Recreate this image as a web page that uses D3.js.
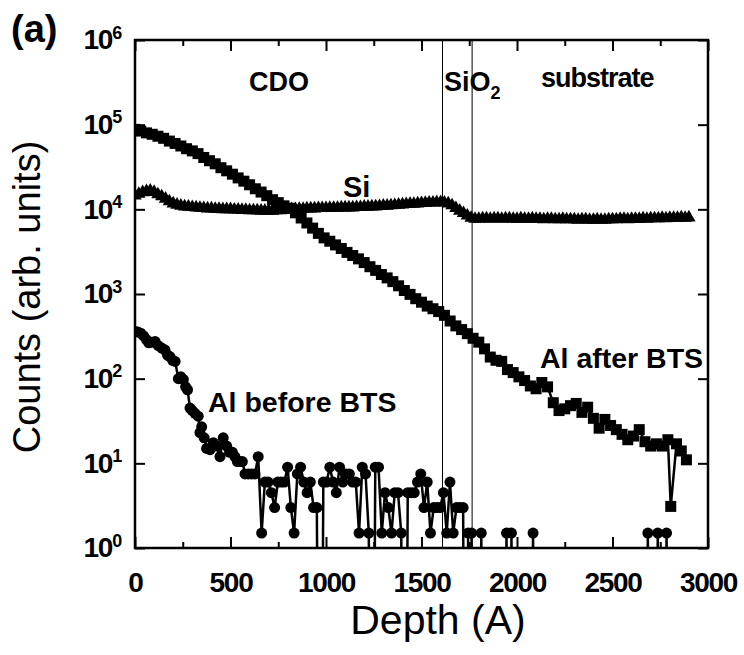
<!DOCTYPE html>
<html>
<head>
<meta charset="utf-8">
<script src="https://cdn.jsdelivr.net/npm/d3@7"></script>
<style>
  body { margin: 0; background: #fff; }
  svg { font-family: "Liberation Sans", Arial, sans-serif; }
  .axis path.domain { display: none; }
  .axis line { stroke: #000; stroke-width: 2; }
</style>
</head>
<body>
<div id="chart"></div>
<script>
// Axis ticks
var xMajor = [0, 500, 1000, 1500, 2000, 2500, 3000];
var xMinor = [250, 750, 1250, 1750, 2250, 2750];
var yMajor = [1, 10, 100, 1000, 10000, 100000, 1000000];

// Layer interfaces (depth, A)
var interfaces = [1610, 1765];

// Si signal (triangles)
var siDepth = [0,20,40,60,80,100,120,140,160,180,200,220,240,260,280,300,320,340,360,380,
  400,420,440,460,480,500,520,540,560,580,600,620,640,660,680,700,720,740,760,780,
  800,820,840,860,880,900,920,940,960,980,1000,1020,1040,1060,1080,1100,1120,1140,1160,1180,
  1200,1220,1240,1260,1280,1300,1320,1340,1360,1380,1400,1420,1440,1460,1480,1500,1520,1540,1560,1580,
  1600,1620,1640,1660,1680,1700,1720,1740,1760,1780,1800,1820,1840,1860,1880,1900,1920,1940,1960,1980,
  2000,2020,2040,2060,2080,2100,2120,2140,2160,2180,2200,2220,2240,2260,2280,2300,2320,2340,2360,2380,
  2400,2420,2440,2460,2480,2500,2520,2540,2560,2580,2600,2620,2640,2660,2680,2700,2720,2740,2760,2780,
  2800,2820,2840,2860,2880,2900];
var siCounts = [14500,15200,15900,16400,16600,16000,15000,14200,13300,12400,
  11700,11300,11000,10800,10700,10600,10500,10400,10300,10200,
  10200,10100,10100,10000,10000,10000,9900,9900,9800,9800,
  9700,9700,9700,9600,9600,9600,9600,9700,9700,9800,
  9900,10000,10000,10100,10100,10200,10200,10200,10300,10300,
  10300,10400,10400,10400,10500,10500,10500,10500,10600,10600,
  10700,10700,10800,10800,10900,11000,11000,11100,11200,11300,
  11400,11500,11600,11600,11700,11800,11900,12000,12000,12100,
  12100,12000,11700,11100,10300,9600,9000,8400,7900,7700,
  7700,7800,7800,7700,7800,7800,7700,7800,7800,7700,
  7700,7800,7700,7700,7800,7700,7700,7600,7700,7700,
  7600,7600,7700,7600,7600,7600,7500,7600,7600,7500,
  7500,7600,7500,7500,7600,7600,7600,7700,7700,7600,
  7700,7700,7700,7800,7700,7800,7800,7800,7900,7800,
  7900,7900,7900,8000,7900,8000];

// Al after BTS (squares)
var afterDepth = [0,30,60,90,120,150,180,210,240,270,300,330,360,390,420,450,480,510,540,570,
  600,630,660,690,720,750,780,810,840,870,900,930,960,990,1020,1050,1080,1110,1140,1170,
  1200,1230,1260,1290,1320,1350,1380,1410,1440,1470,1500,1530,1560,1590,1620,1650,1680,1710,1740,1770,
  1800,1830,1860,1890,1920,1950,1980,2010,2040,2070,2100,2130,2160,2190,2220,2250,2280,2310,2340,2370,
  2400,2430,2460,2490,2520,2550,2580,2610,2640,2670,2700,2730,2760,2790,2805,2835,2860,2887];
var afterCounts = [88000,84000,80000,77000,73000,69000,64000,60000,56000,52000,
  49000,45500,41000,37500,34500,31000,28500,26000,23500,21500,
  19500,17500,16000,14500,13000,12000,11000,10300,9100,7900,
  6900,6000,5200,4600,4200,3800,3450,3100,2850,2600,
  2350,2100,1900,1700,1550,1400,1250,1100,990,880,
  800,720,670,620,560,480,420,380,340,300,
  270,225,180,165,160,128,118,105,95,82,
  76,90,80,52,42,44,48,51,40,46,
  34,26,33,28,25,22,19,21,25,18,
  16,17,16,19,3.1,17,14,11];

// Al before BTS (circles), 0 = no counts
var beforeDepth = [0,15,30,45,60,72,88,105,122,140,157,170,183,197,210,227,240,253,265,275,
  288,300,314,331,340,349,362,375,393,410,427,445,462,480,495,510,523,536,549,562,
  576,593,611,628,645,663,680,697,714,731,748,765,782,799,816,833,850,867,884,901,
  918,935,952,969,986,1003,1020,1037,1054,1071,1088,1105,1122,1139,1156,1173,1190,1207,1224,1241,
  1258,1275,1292,1309,1326,1343,1360,1377,1394,1411,1428,1445,1462,1479,1496,1513,1530,1547,1564,1581,
  1598,1615,1632,1649,1666,1683,1700,1718,1731,1744,1762,1779,1796,1813,1830,1928,1945,1962,1971,1988,
  2067,2084,2101,2668,2685,2702,2720,2737,2754,2766,2783,2800];
var beforeCounts = [360,355,345,320,290,265,270,275,245,230,218,190,182,165,160,100,105,98,80,74,
  45,42,39,36,23,27,20,15,14.5,17.5,16,12,20,16,13.5,13.5,12,10.5,10.5,10.5,
  7.5,7.5,7.5,7.5,12,1.5,6,6,4.5,3,6,6,6,9,3,1.5,7.5,9,6,4.5,
  6,3,3,0,6,6,9,6,4.5,9,6,7.5,7.5,6,6,1.5,9,7.5,1.5,0,
  9,9,1.5,4.5,3,1.5,4.5,4.5,1.5,0,4.5,4.5,4.5,6,7.5,3,6,1.5,3,3,
  3,4.5,1.5,6,1.5,3,3,3,0,1.5,1.5,0,0,1.5,0,0,1.5,0,1.5,0,
  0,1.5,0,0,1.5,0,0,1.5,0,0,1.5,0];

// Dimensions and margins
var margin = {top: 40, right: 36, bottom: 107, left: 135},
    width = 744 - margin.left - margin.right,
    height = 655 - margin.top - margin.bottom;

var root = d3.select("#chart").append("svg")
    .attr("width", 744)
    .attr("height", 655);

var svg = root.append("g")
    .attr("transform", "translate(" + margin.left + "," + margin.top + ")");

var x = d3.scaleLinear().domain([0, 3000]).range([0, width]);
var y = d3.scaleLog().domain([1, 1e6]).range([height, 0]);

// zero counts fall far below the axis and get clipped
function yv(c) { return c > 0 ? y(c) : y(1e-6); }

svg.append("clipPath").attr("id", "plot-clip")
    .append("rect").attr("width", width).attr("height", height);

// Axes, ticks inward
var sup = {1: "0", 10: "1", 100: "2", 1000: "3", 10000: "4", 100000: "5", 1000000: "6"};

var xAxis = svg.append("g").attr("class", "axis")
    .attr("transform", "translate(0," + height + ")")
    .call(d3.axisBottom(x).tickValues(xMajor).tickSize(-11).tickSizeOuter(0)
        .tickPadding(24).tickFormat(d3.format("d")));
xAxis.selectAll("text")
    .attr("fill", "#000").style("font-size", "28px").style("font-weight", "bold")
    .style("letter-spacing", "-1.3px");

svg.append("g").attr("class", "axis")
    .attr("transform", "translate(0," + height + ")")
    .call(d3.axisBottom(x).tickValues(xMinor).tickSize(-6).tickSizeOuter(0).tickFormat(""));
svg.append("g").attr("class", "axis")
    .call(d3.axisTop(x).tickValues(xMajor).tickSize(-11).tickSizeOuter(0).tickFormat(""));
svg.append("g").attr("class", "axis")
    .call(d3.axisTop(x).tickValues(xMinor).tickSize(-6).tickSizeOuter(0).tickFormat(""));

var yAxis = svg.append("g").attr("class", "axis")
    .call(d3.axisLeft(y).tickValues(yMajor).tickSize(-10).tickSizeOuter(0).tickPadding(14).tickFormat(""));
yAxis.selectAll(".tick text").each(function (d) {
    var t = d3.select(this).attr("fill", "#000")
        .style("font-size", "28px").style("font-weight", "bold")
        .style("letter-spacing", "-1.2px");
    t.append("tspan").text("10");
    t.append("tspan").attr("dy", "-0.6em").style("font-size", "18px").text(sup[d]);
});
svg.append("g").attr("class", "axis")
    .attr("transform", "translate(" + width + ",0)")
    .call(d3.axisRight(y).tickValues(yMajor).tickSize(-10).tickSizeOuter(0).tickFormat(""));

// Frame
svg.append("rect")
    .attr("width", width).attr("height", height)
    .attr("fill", "none").attr("stroke", "#000").attr("stroke-width", 2.5);

// Interface lines
svg.selectAll(".iface").data(interfaces).enter().append("line")
    .attr("class", "iface")
    .attr("x1", function (d) { return x(d); }).attr("x2", function (d) { return x(d); })
    .attr("y1", 0).attr("y2", height)
    .attr("stroke", "#000").attr("stroke-width", 1);

var plot = svg.append("g").attr("clip-path", "url(#plot-clip)");

function series(depths, counts) {
    return depths.map(function (d, i) { return {d: d, c: counts[i]}; });
}
var siData = series(siDepth, siCounts),
    afterData = series(afterDepth, afterCounts),
    beforeData = series(beforeDepth, beforeCounts);

var line = d3.line()
    .x(function (p) { return x(p.d); })
    .y(function (p) { return yv(p.c); });

// Si, triangles
plot.append("path").datum(siData).attr("d", line)
    .attr("fill", "none").attr("stroke", "#000").attr("stroke-width", 3);
plot.selectAll(".tri").data(siData).enter().append("path")
    .attr("class", "tri")
    .attr("d", d3.symbol().type(d3.symbolTriangle).size(78))
    .attr("transform", function (p) { return "translate(" + x(p.d) + "," + y(p.c) + ")"; })
    .attr("fill", "#000");

// Al after BTS, squares
plot.append("path").datum(afterData).attr("d", line)
    .attr("fill", "none").attr("stroke", "#000").attr("stroke-width", 2.5);
plot.selectAll(".sq").data(afterData).enter().append("rect")
    .attr("class", "sq")
    .attr("x", function (p) { return x(p.d) - 5.5; })
    .attr("y", function (p) { return y(p.c) - 5.5; })
    .attr("width", 11).attr("height", 11)
    .attr("fill", "#000");

// Al before BTS, circles
plot.append("path").datum(beforeData).attr("d", line)
    .attr("fill", "none").attr("stroke", "#000").attr("stroke-width", 2.5);
plot.selectAll(".dot").data(beforeData.filter(function (p) { return p.c > 0; })).enter().append("circle")
    .attr("class", "dot")
    .attr("cx", function (p) { return x(p.d); })
    .attr("cy", function (p) { return y(p.c); })
    .attr("r", 5.5)
    .attr("fill", "#000");

// Annotations
function label(px, py, txt, size, anchor) {
    return root.append("text")
        .attr("x", px).attr("y", py)
        .attr("text-anchor", anchor || "start")
        .style("font-size", size + "px").style("font-weight", "bold")
        .text(txt);
}
label(11, 42, "(a)", 38);
label(279, 91, "CDO", 27, "middle");
var sio = label(444, 91, "SiO", 27);
sio.append("tspan").attr("dy", 8).style("font-size", "18px").text("2");
label(541, 87, "substrate", 27).style("letter-spacing", "-1px");
label(343, 197, "Si", 29);
label(540, 368, "Al after BTS", 28.5);
label(208, 412, "Al before BTS", 28.5);

// Axis titles
root.append("text")
    .attr("x", 438).attr("y", 634)
    .attr("text-anchor", "middle")
    .style("font-size", "41px")
    .text("Depth (A)");
root.append("text")
    .attr("transform", "translate(40,297) rotate(-90)")
    .attr("text-anchor", "middle")
    .style("font-size", "38px")
    .text("Counts (arb. units)");
</script>
</body>
</html>
